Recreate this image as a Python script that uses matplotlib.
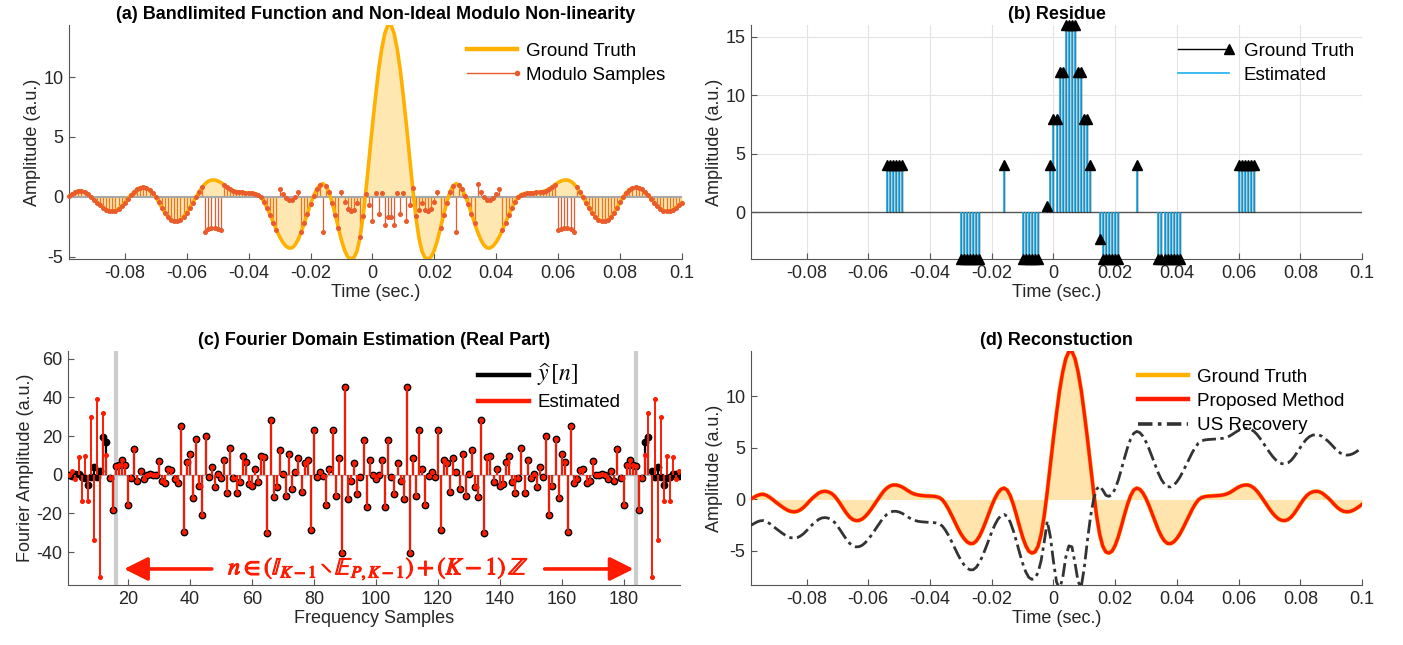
import numpy as np
import matplotlib.pyplot as plt
from matplotlib.lines import Line2D
from matplotlib.legend_handler import HandlerLine2D
from matplotlib import patheffects

plt.rcParams['font.family'] = ['Liberation Sans', 'DejaVu Sans']
plt.rcParams['mathtext.fontset'] = 'stix'
plt.rcParams['axes.unicode_minus'] = False

# sample grid: 1 ms steps from -0.098 s to 0.1 s
t = np.arange(-98, 101) / 1000.0
freq_n = np.arange(1, 200)

# bandlimited ground truth, read at the sample instants
gt = np.array([
    0.05, 0.22, 0.38, 0.48, 0.50, 0.40, 0.22, 0.00, -0.25, -0.48,
    -0.70, -0.90, -1.07, -1.17, -1.20, -1.15, -1.00, -0.78, -0.48, -0.15,
    0.15, 0.40, 0.63, 0.76, 0.79, 0.74, 0.60, 0.35, -0.02, -0.46,
    -0.92, -1.36, -1.72, -1.95, -2.05, -2.03, -1.90, -1.65, -1.32, -0.92,
    -0.48, -0.03, 0.40, 0.80, 1.10, 1.30, 1.40, 1.40, 1.33, 1.20,
    1.02, 0.82, 0.64, 0.52, 0.44, 0.39, 0.36, 0.34, 0.33, 0.31,
    0.27, 0.18, -0.03, -0.43, -0.94, -1.53, -2.16, -2.77, -3.33, -3.78,
    -4.11, -4.28, -4.27, -4.03, -3.58, -2.95, -2.20, -1.40, -0.61, 0.08,
    0.63, 0.98, 1.10, 0.91, 0.36, -0.48, -1.50, -2.60, -3.63, -4.46,
    -5.01, -5.20, -5.10, -4.55, -3.40, -1.60, 0.75, 3.35, 5.95, 8.35,
    10.60, 12.35, 13.65, 14.35, 14.35, 13.65, 12.35, 10.60, 8.35, 5.95,
    3.35, 0.75, -1.60, -3.40, -4.55, -5.10, -5.20, -5.01, -4.46, -3.63,
    -2.60, -1.50, -0.48, 0.36, 0.91, 1.10, 0.98, 0.63, 0.08, -0.61,
    -1.40, -2.20, -2.95, -3.58, -4.03, -4.27, -4.28, -4.11, -3.78, -3.33,
    -2.77, -2.16, -1.53, -0.94, -0.43, -0.03, 0.18, 0.27, 0.31, 0.33,
    0.34, 0.36, 0.39, 0.44, 0.52, 0.64, 0.82, 1.02, 1.20, 1.33,
    1.40, 1.40, 1.30, 1.10, 0.80, 0.40, -0.03, -0.48, -0.92, -1.32,
    -1.65, -1.90, -2.03, -2.05, -1.95, -1.72, -1.36, -0.92, -0.46, -0.02,
    0.35, 0.60, 0.74, 0.79, 0.76, 0.63, 0.40, 0.15, -0.15, -0.48,
    -0.78, -1.00, -1.15, -1.20, -1.17, -1.07, -0.90, -0.70, -0.48])

# residue (sample index, value); the estimate matches it
res_k = [44, 45, 46, 47, 48, 49,
         68, 69, 70, 71, 72, 73, 74,
         82,
         88, 89, 90, 91, 92, 93,
         96, 97, 98, 99, 100, 101, 102, 103, 104, 105, 106, 107, 108, 109, 110,
         113, 114, 115, 116, 117, 118, 119,
         125,
         132, 133, 134, 135, 136, 137, 138, 139,
         158, 159, 160, 161, 162, 163]
res_v = [4, 4, 4, 4, 4, 4,
         -4, -4, -4, -4, -4, -4, -4,
         4,
         -4, -4, -4, -4, -4, -4,
         0.5, 4, 8, 8, 12, 12, 16, 16, 16, 16, 12, 12, 8, 8, 4,
         -2.3, -4, -4, -4, -4, -4, -4,
         4,
         -4, -4, -4, -4, -4, -4, -4, -4,
         4, 4, 4, 4, 4, 4]
est_res_v = list(res_v)

residue = np.zeros(len(t))
residue[res_k] = res_v
modulo = gt - residue

# unlimited-sampling recovery curve
us_rec = np.array([
    -2.50, -2.33, -2.17, -2.07, -2.05, -2.15, -2.33, -2.55, -2.80, -3.03,
    -3.25, -3.45, -3.62, -3.72, -3.75, -3.70, -3.55, -3.33, -3.03, -2.70,
    -2.40, -2.15, -1.92, -1.79, -1.76, -1.81, -1.95, -2.20, -2.57, -3.01,
    -3.47, -3.91, -4.27, -4.50, -4.60, -4.58, -4.45, -4.20, -3.87, -3.47,
    -3.03, -2.58, -2.15, -1.75, -1.45, -1.25, -1.15, -1.15, -1.22, -1.35,
    -1.53, -1.73, -1.91, -2.03, -2.11, -2.16, -2.19, -2.21, -2.22, -2.24,
    -2.28, -2.37, -2.58, -2.98, -3.49, -4.08, -4.71, -5.32, -5.88, -6.33,
    -6.66, -6.83, -6.82, -6.58, -6.13, -5.50, -4.75, -3.95, -3.16, -2.47,
    -1.92, -1.57, -1.45, -1.64, -2.19, -3.03, -4.05, -5.15, -6.18, -7.01,
    -7.56, -7.75, -7.65, -7.10, -5.95, -4.15, -2.10, -3.60, -6.00, -8.00,
    -8.70, -7.60, -5.60, -4.50, -4.60, -6.20, -8.00, -8.50, -6.60, -4.00,
    -1.70, 0.00, 1.00, 1.30, 0.90, 0.40, 0.30, 0.49, 1.04, 1.87,
    2.90, 4.00, 5.02, 5.86, 6.41, 6.60, 6.48, 6.13, 5.58, 4.89,
    4.10, 3.30, 2.55, 1.92, 1.47, 1.23, 1.22, 1.39, 1.72, 2.17,
    2.73, 3.34, 3.97, 4.56, 5.07, 5.47, 5.68, 5.77, 5.81, 5.83,
    5.84, 5.86, 5.89, 5.94, 6.02, 6.14, 6.32, 6.52, 6.70, 6.83,
    6.90, 6.90, 6.80, 6.60, 6.30, 5.90, 5.47, 5.02, 4.58, 4.18,
    3.85, 3.60, 3.47, 3.45, 3.55, 3.78, 4.14, 4.58, 5.04, 5.48,
    5.85, 6.10, 6.24, 6.29, 6.26, 6.13, 5.90, 5.65, 5.35, 5.02,
    4.72, 4.50, 4.35, 4.30, 4.33, 4.43, 4.60, 4.80, 5.02])
proposed = gt.copy()

# real part of the Fourier samples, n = 1..199
yhat_re = np.array([
    -0.3, -0.5, 0.3, 0.3, -1.0, -1.7, -5.3, -1.0, 4.0, -1.0,
    2.0, 19.6, 17.2, -1.9, -18.0, 4.6, 5.0, 7.6, 5.0, -15.5,
    -1.9, 13.3, -3.1, 1.7, -2.2, 0.0, 0.3, 0.0, -0.2, 6.9,
    -3.1, -4.0, 2.9, 2.6, -2.2, -4.5, 25.3, -29.8, 6.4, 10.7,
    -12.1, 18.4, -5.7, -20.8, 20.2, -1.4, 3.8, -6.2, 0.3, -1.9,
    7.6, -9.3, 13.8, -1.9, -9.3, -3.6, 9.8, 6.4, -4.8, -5.7,
    2.9, -3.6, 9.8, 9.0, -30.3, 28.3, -11.4, -6.2, 12.7, 0.3,
    -11.0, 10.7, -7.6, 1.2, 8.6, -9.0, 5.9, 7.6, -28.6, 23.3,
    -0.9, 1.2, -0.5, -15.7, 2.9, 23.3, -11.2, 8.6, -40.7, 45.6,
    -12.4, -3.3, 5.9, -10.0, -1.4, 17.9, -16.5, 7.8, 0.0, -2.2,
    0.0, 7.8, -16.5, 17.9, -1.4, -10.0, 5.9, -3.3, -12.4, 45.6,
    -40.7, 8.6, -11.2, 23.3, 2.9, -15.7, -0.5, 1.2, -0.9, 23.3,
    -28.6, 7.6, 5.9, -9.0, 8.6, 1.2, -7.6, 10.7, -11.0, 0.3,
    12.7, -6.2, -11.4, 28.3, -30.3, 9.0, 9.8, -3.6, 2.9, -5.7,
    -4.8, 6.4, 9.8, -3.6, -9.3, -1.9, 13.8, -9.3, 7.6, -1.9,
    0.3, -6.2, 3.8, -1.4, 20.2, -20.8, -5.7, 18.4, -12.1, 10.7,
    6.4, -29.8, 25.3, -4.5, -2.2, 2.6, 2.9, -4.0, -3.1, 6.9,
    -0.2, 0.0, 0.3, 0.0, -2.2, 1.7, -3.1, 13.3, -1.9, -15.5,
    5.0, 7.6, 5.0, 4.6, -18.0, -1.9, 17.2, 19.6, 2.0, -1.0,
    4.0, -1.0, -5.3, -1.7, -1.0, 0.3, 0.3, -0.5, -0.3])
est_outer_lo = [0.0, 1.7, -2.2, 9.3, -13.4, 9.8, -13.4, 30.0, -33.6, 39.4,
                -53.0, 32.0, 10.2, -1.9, -18.0]
est_outer_hi = [-18.0, -1.9, 10.2, 32.0, -53.0, 39.4, -33.6, 30.0, -13.4, 9.8,
                -13.4, 9.3, -2.2, 1.7, 0.0]
est_re = yhat_re.copy()
est_re[:15] = est_outer_lo
est_re[184:] = est_outer_hi
band_edges = [16, 184]

time_ticks = [-0.08, -0.06, -0.04, -0.02, 0, 0.02, 0.04, 0.06, 0.08, 0.1]
time_labels = ['-0.08', '-0.06', '-0.04', '-0.02', '0', '0.02', '0.04', '0.06', '0.08', '0.1']

GT_C = '#FFB000'
MOD_C = '#EA5B2C'
BLUE = '#1CB0EE'
RED = '#FF1A00'
TXT = '#262626'
FS = 13
LFS = 13.5


class StemHandler(HandlerLine2D):
    # legend icon with the marker at the right end, like a MATLAB stem
    def create_artists(self, legend, orig_handle, xdescent, ydescent,
                       width, height, fontsize, trans):
        arts = super().create_artists(legend, orig_handle, xdescent, ydescent,
                                      width, height, fontsize, trans)
        for a in arts:
            if a.get_markevery() is not None:
                a.set_markevery([len(a.get_xdata()) - 1])
        return arts


def style(ax, title, xlabel, ylabel):
    for s in ['top', 'right']:
        ax.spines[s].set_visible(False)
    for s in ['left', 'bottom']:
        ax.spines[s].set_color('#555555')
        ax.spines[s].set_linewidth(0.8)
    ax.tick_params(direction='in', length=4, width=0.8, colors='#555555',
                   labelcolor=TXT, labelsize=FS, pad=4)
    ax.set_title(title, fontsize=FS, fontweight='bold', color='black', pad=4)
    ax.set_xlabel(xlabel, fontsize=FS, color=TXT, labelpad=2)
    ax.set_ylabel(ylabel, fontsize=FS, color=TXT, labelpad=2)


def put_legend(ax, handles, labels, x0, y0, spacing=0.38, pad=0.45, hmap=None):
    ax.legend(handles, labels, loc='upper left', bbox_to_anchor=(x0, y0),
              frameon=False, fontsize=LFS, handlelength=2.7, handletextpad=pad,
              labelspacing=spacing, borderpad=0, borderaxespad=0,
              handler_map=hmap)


fig = plt.figure(figsize=(14.03, 6.45), dpi=100)

# (a) ground truth and modulo samples
ax = fig.add_axes([0.0492, 0.5984, 0.4369, 0.3628])
ax.vlines(t, 0, modulo, color=MOD_C, lw=0.9, zorder=1)
ax.fill_between(t, gt, 0, color=GT_C, alpha=0.3, lw=0, zorder=2)
ax.axhline(0, color='#a8a8a8', lw=1.5, zorder=2.5)
ax.plot(t, gt, color=GT_C, lw=2.6, zorder=3)
ax.plot(t, modulo, 'o', ms=2.6, color=MOD_C, zorder=4, clip_on=False)
ax.set_xlim(-0.098, 0.1)
ax.set_ylim(gt.min(), gt.max())
ax.set_xticks(time_ticks, time_labels)
ax.set_yticks([-5, 0, 5, 10])
style(ax, '(a) Bandlimited Function and Non-Ideal Modulo Non-linearity',
      'Time (sec.)', 'Amplitude (a.u.)')
h_gt = Line2D([], [], color=GT_C, lw=3.2)
h_mod = Line2D([], [], color=MOD_C, lw=1, marker='o', ms=3)
put_legend(ax, [h_gt, h_mod], ['Ground Truth', 'Modulo Samples'], 0.649, 0.925,
           hmap={h_mod: StemHandler()})

# (b) residue
ax = fig.add_axes([0.5353, 0.5984, 0.4355, 0.3628])
ax.grid(True, color='#e3e3e3', lw=0.8, zorder=0)
ax.axhline(0, color='#555555', lw=1, zorder=1)
t_res = t[res_k]
ax.vlines(t_res, 0, res_v, color='black', lw=1, zorder=2)
ax.vlines(t_res, 0, est_res_v, color=BLUE, lw=1.2, zorder=3)
ax.plot(t_res, res_v, '^', color='black', ms=7, zorder=4, clip_on=False)
ax.set_xlim(-0.098, 0.1)
ax.set_ylim(-4, 16)
ax.set_xticks(time_ticks, time_labels)
ax.set_yticks([0, 5, 10, 15])
ax.set_axisbelow(True)
style(ax, '(b) Residue', 'Time (sec.)', 'Amplitude (a.u.)')
h_r = Line2D([], [], color='black', lw=1, marker='^', ms=7)
h_e = Line2D([], [], color=BLUE, lw=1.2)
put_legend(ax, [h_r, h_e], ['Ground Truth', 'Estimated'], 0.699, 0.925,
           pad=0.8, hmap={h_r: StemHandler()})

# (c) Fourier domain
ax = fig.add_axes([0.0485, 0.0930, 0.4362, 0.3628])
for b in band_edges:
    ax.axvline(b, color='#cccccc', lw=3, zorder=0)
ax.axhline(0, color='#b0b0b0', lw=1, zorder=1)
ax.vlines(freq_n, 0, yhat_re, color='black', lw=1.6, zorder=2)
ax.plot(freq_n, yhat_re, 'o', color='black', ms=4.6, zorder=3)
ax.vlines(freq_n, 0, est_re, color=RED, lw=1.4, zorder=4)
ax.plot(freq_n, est_re, 'o', color=RED, ms=2.6, zorder=5)
ax.set_xlim(0.6, 198.2)
ax.set_ylim(-57, 64)
ax.set_xticks(range(20, 181, 20))
ax.set_yticks(range(-40, 61, 20))
style(ax, '(c) Fourier Domain Estimation (Real Part)', 'Frequency Samples',
      'Fourier Amplitude (a.u.)')
arrow_kw = dict(arrowstyle='-|>,head_length=0.9,head_width=0.45', color=RED,
                lw=2.6, mutation_scale=16, shrinkA=0, shrinkB=0)
ax.annotate('', xy=(18.7, -48.7), xytext=(47, -48.7), arrowprops=arrow_kw)
ax.annotate('', xy=(183.2, -48.7), xytext=(154.5, -48.7), arrowprops=arrow_kw)
ax.text(100.7, -48.7,
        r'$n \in (\mathbb{I}_{K-1} \setminus \mathbb{E}_{P,K-1}) + (K-1)\,\mathbb{Z}$',
        color=RED, fontsize=17.5, ha='center', va='center',
        path_effects=[patheffects.withStroke(linewidth=0.8, foreground=RED)])
h_y = Line2D([], [], color='black', lw=3.2)
h_est = Line2D([], [], color=RED, lw=3.2)
leg_lab = [r'$\widehat{\mathit{y}}\,[\mathit{n}]$', 'Estimated']
put_legend(ax, [h_y, h_est], leg_lab, 0.67, 0.955, spacing=0.3)
ax.get_legend().get_texts()[0].set_fontsize(17)

# (d) reconstruction
ax = fig.add_axes([0.5353, 0.0930, 0.4355, 0.3628])
ax.fill_between(t, gt, 0, color='#FFE4AE', lw=0, zorder=1)
ax.plot(t, gt, color=GT_C, lw=3, zorder=2)
ax.plot(t, proposed, color=RED, lw=2.3, zorder=3)
ax.plot(t, us_rec, color='#333333', lw=2, ls=(0, (5, 1.6, 1.2, 1.6)), zorder=4)
ax.set_xlim(-0.098, 0.1)
ax.set_ylim(-8.3, 14.4)
ax.set_xticks(time_ticks, time_labels)
ax.set_yticks([-5, 0, 5, 10])
style(ax, '(d) Reconstuction', 'Time (sec.)', 'Amplitude (a.u.)')
h1 = Line2D([], [], color=GT_C, lw=3.2)
h2 = Line2D([], [], color=RED, lw=3.2)
h3 = Line2D([], [], color='#333333', lw=2.6, ls=(0, (4, 1.5, 1, 1.5)))
put_legend(ax, [h1, h2, h3], ['Ground Truth', 'Proposed Method', 'US Recovery'],
           0.633, 0.925)

fig.savefig('out.png', dpi=100)
